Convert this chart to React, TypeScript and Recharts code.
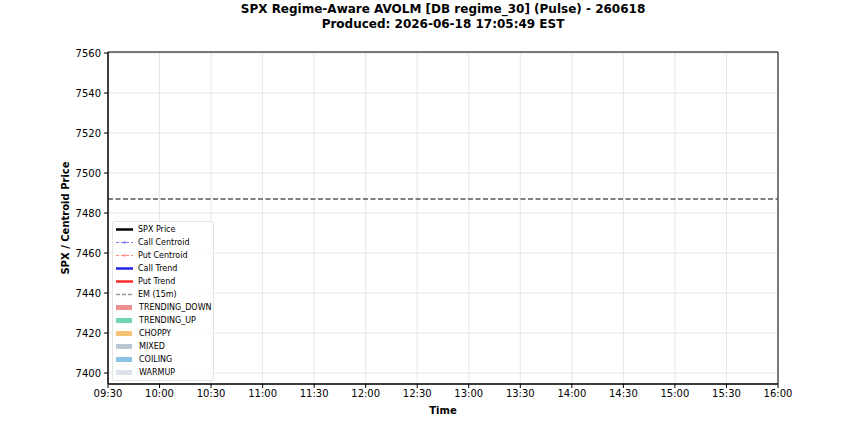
import React from "react";
import {
  CartesianGrid,
  Label,
  Legend,
  LineChart,
  ReferenceArea,
  ReferenceLine,
  XAxis,
  YAxis,
} from "recharts";

// session time axis, minutes since midnight
const tickMinutes = [570, 600, 630, 660, 690, 720, 750, 780, 810, 840, 870, 900, 930, 960];
const tickLabels = [
  "09:30", "10:00", "10:30", "11:00", "11:30", "12:00", "12:30",
  "13:00", "13:30", "14:00", "14:30", "15:00", "15:30", "16:00",
];
const priceTicks = [7400, 7420, 7440, 7460, 7480, 7500, 7520, 7540, 7560];
const priceDomain = [7394.5, 7560.5];
const openLevel = 7487;

const legendItems = [
  { name: "SPX Price", kind: "line", color: "#000000", dash: "", width: 2.5 },
  { name: "Call Centroid", kind: "marker", color: "#7a7aff", dash: "3 2", width: 1 },
  { name: "Put Centroid", kind: "marker", color: "#ff8a7a", dash: "3 2", width: 1 },
  { name: "Call Trend", kind: "line", color: "#2424e8", dash: "", width: 2.5 },
  { name: "Put Trend", kind: "line", color: "#ff2a2a", dash: "", width: 2.5 },
  { name: "EM (15m)", kind: "line", color: "#999999", dash: "4 2", width: 1.3 },
  { name: "TRENDING_DOWN", kind: "patch", color: "#f08f8f" },
  { name: "TRENDING_UP", kind: "patch", color: "#6fd6b2" },
  { name: "CHOPPY", kind: "patch", color: "#f5c172" },
  { name: "MIXED", kind: "patch", color: "#bcc6d3" },
  { name: "COILING", kind: "patch", color: "#8cc2e6" },
  { name: "WARMUP", kind: "patch", color: "#dde3ea" },
];

const chartData = tickMinutes.map((t) => ({ t }));

const FONT = "'DejaVu Sans', sans-serif";

const LegendBox = () => (
  <div
    style={{
      background: "rgba(255,255,255,0.8)",
      border: "1px solid #e3e3e3",
      borderRadius: 2,
      padding: "1px 1px 1px 2px",
      fontFamily: FONT,
      fontSize: 8,
      color: "#000",
      lineHeight: "13px",
    }}
  >
    {legendItems.map((it) => (
      <div key={it.name} style={{ display: "flex", alignItems: "center", height: 13 }}>
        <svg width={22} height={13} style={{ flexShrink: 0 }}>
          {it.kind === "patch" ? (
            <rect x={1} y={4} width={16} height={5} fill={it.color} />
          ) : (
            <>
              <line
                x1={1}
                x2={18}
                y1={6.5}
                y2={6.5}
                stroke={it.color}
                strokeWidth={it.width}
                strokeDasharray={it.dash || undefined}
              />
              {it.kind === "marker" && <circle cx={9.5} cy={6.5} r={1.3} fill={it.color} />}
            </>
          )}
        </svg>
        <span style={{ marginLeft: it.kind === "patch" ? 2 : 1 }}>{it.name}</span>
      </div>
    ))}
  </div>
);

export default function App() {
  return (
    <div style={{ position: "absolute", left: 0, top: 0, width: 864, height: 432, background: "#fff" }}>
      <div
        style={{
          position: "absolute",
          left: 0,
          width: 886,
          top: 2,
          textAlign: "center",
          fontFamily: FONT,
          fontWeight: "bold",
          fontSize: 12,
          lineHeight: "15px",
          color: "#000",
        }}
      >
        SPX Regime-Aware AVOLM [DB regime_30] (Pulse) - 260618
        <br />
        Produced: 2026-06-18 17:05:49 EST
      </div>
      <LineChart
        width={864}
        height={432}
        data={chartData}
        margin={{ top: 52, right: 86, bottom: 18, left: 48 }}
        style={{ fontFamily: FONT }}
      >
        <CartesianGrid stroke="#e0e0e0" strokeWidth={0.8} vertical horizontal />
        <XAxis
          dataKey="t"
          type="number"
          domain={[570, 960]}
          ticks={tickMinutes}
          tickFormatter={(v: number) => tickLabels[tickMinutes.indexOf(v)]}
          height={30}
          tickSize={4}
          tickMargin={2}
          axisLine={{ stroke: "#000" }}
          tickLine={{ stroke: "#000" }}
          tick={{ fill: "#000", fontSize: 10 }}
          interval={0}
        >
          <Label value="Time" position="insideBottom" offset={0} fill="#000" fontWeight="bold" fontSize={10} />
        </XAxis>
        <YAxis
          type="number"
          domain={priceDomain}
          ticks={priceTicks}
          width={60}
          tickSize={4}
          tickMargin={3}
          axisLine={{ stroke: "#000" }}
          tickLine={{ stroke: "#000" }}
          tick={{ fill: "#000", fontSize: 10 }}
          allowDataOverflow
          interval={0}
        >
          <Label
            value="SPX / Centroid Price"
            angle={-90}
            position="insideLeft"
            offset={17}
            style={{ textAnchor: "middle" }}
            fill="#000"
            fontWeight="bold"
            fontSize={10}
          />
        </YAxis>
        <ReferenceLine
          y={openLevel}
          stroke="#555555"
          strokeWidth={1.5}
          strokeDasharray="5 2.5"
        />
        <ReferenceArea
          x1={570}
          x2={960}
          y1={priceDomain[0]}
          y2={priceDomain[1]}
          fill="none"
          stroke="#000"
          strokeWidth={1}
        />
        <Legend
          layout="vertical"
          align="center"
          verticalAlign="middle"
          content={() => <LegendBox />}
          wrapperStyle={{ left: 112, top: 221, width: "auto", height: "auto" }}
        />
      </LineChart>
    </div>
  );
}
